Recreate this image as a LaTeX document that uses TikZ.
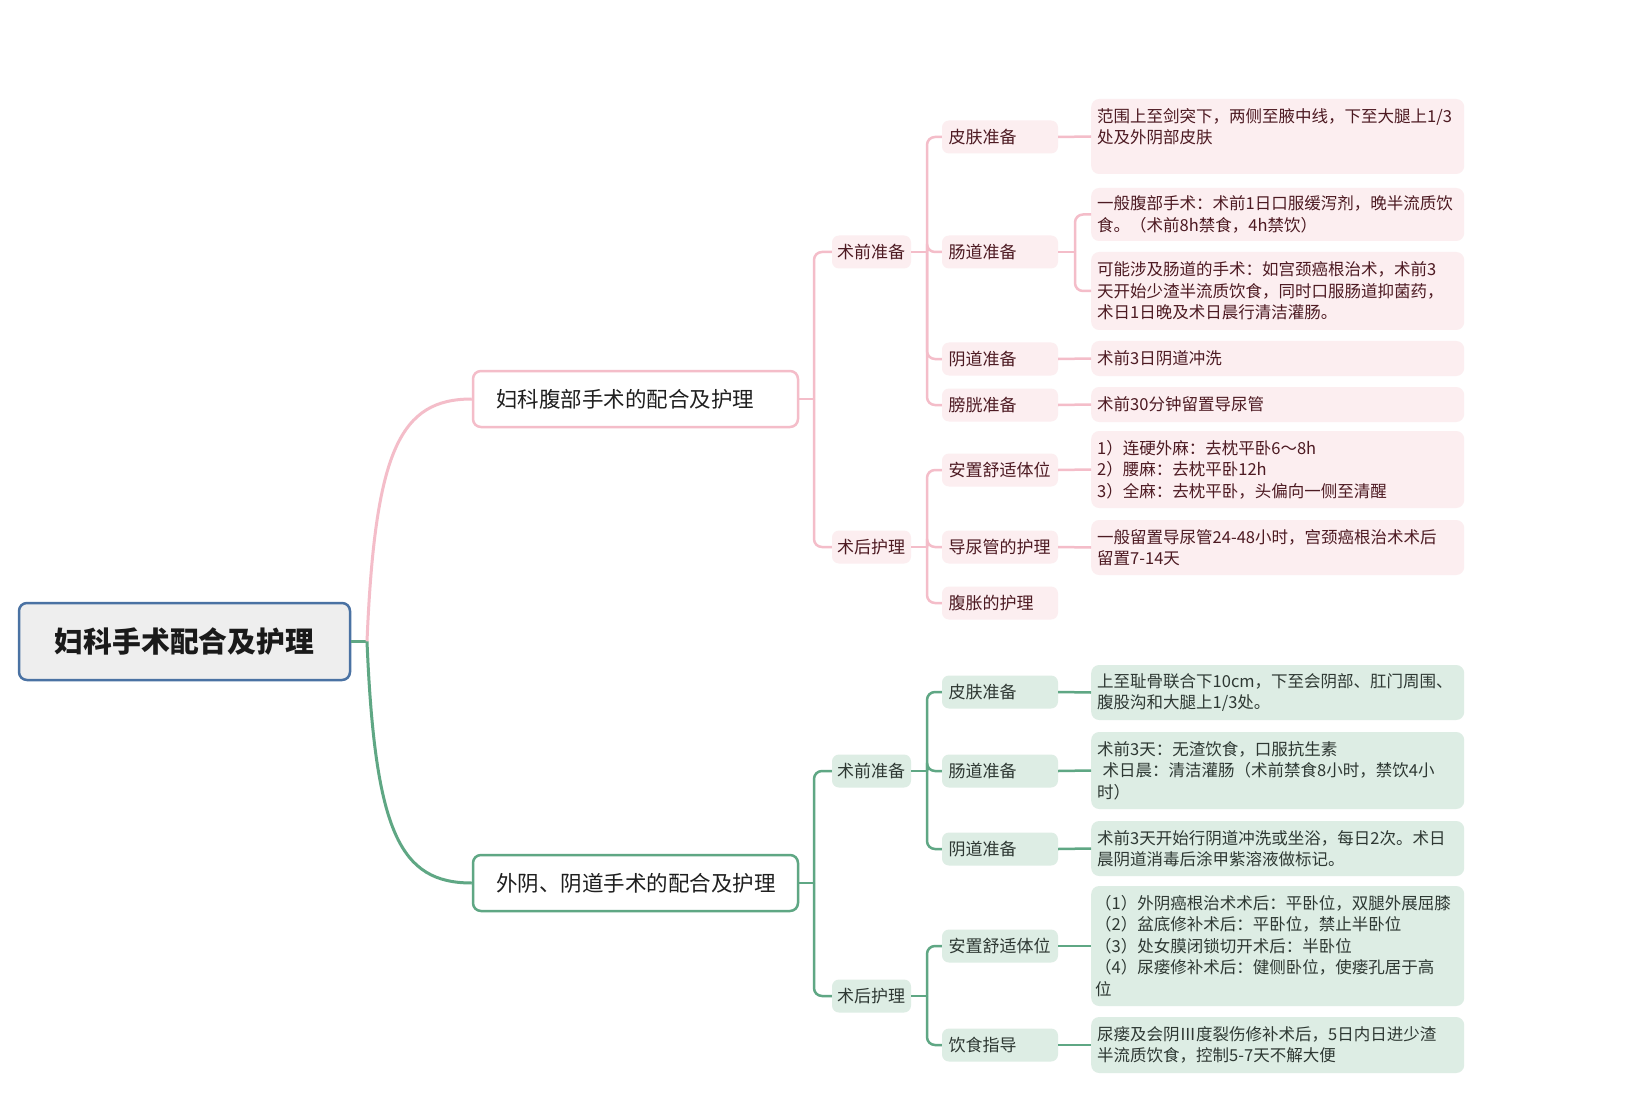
\documentclass[tikz,border=0pt]{standalone}
\usepackage{fontspec}
\setmainfont{Noto Sans CJK SC}
\usetikzlibrary{calc}
\definecolor{pline}{HTML}{F4BDC9}
\definecolor{pfill}{HTML}{FCEEF0}
\definecolor{ptext}{HTML}{4D1A22}
\definecolor{gline}{HTML}{5FA784}
\definecolor{gfill}{HTML}{DDEDE4}
\definecolor{gtext}{HTML}{2E3833}
\definecolor{rootblue}{HTML}{4A72A3}
\definecolor{rootfill}{HTML}{EEEEEE}
\definecolor{roottext}{HTML}{1A1A1A}
\tikzset{
  rootbox/.style={draw=rootblue, line width=2.5, fill=rootfill, rounded corners=8,
    minimum width=331, minimum height=77, text=roottext,
    font=\fontsize{28.8}{34}\selectfont\bfseries},
  branchbox/.style={draw=#1, line width=2.5, fill=white, rounded corners=8,
    text width=279, inner xsep=23, minimum height=56, align=left, text=black!88,
    font=\fontsize{21.5}{26}\selectfont},
  lvtwo/.style={fill=#1, rounded corners=7, text width=69, inner xsep=5,
    minimum height=33, align=left, font=\fontsize{17}{21.5}\selectfont},
  lvthree/.style={fill=#1, rounded corners=7, text width=103, inner xsep=6.5,
    minimum height=33, align=left, font=\fontsize{17}{21.5}\selectfont},
  leafbox/.style={fill=#1, rounded corners=8, text width=361, inner xsep=6,
    inner ysep=4, anchor=west, align=left, font=\fontsize{16.5}{21.5}\selectfont},
  pconn/.style={draw=pline, line width=2.5, rounded corners=8},
  gconn/.style={draw=gline, line width=2.5, rounded corners=8},
  pmain/.style={draw=pline, line width=3},
  gmain/.style={draw=gline, line width=3},
}
\begin{document}
\begin{tikzpicture}[x=1pt,y=-1pt]
\useasboundingbox[fill=white] (0,0) rectangle (1636,1115);

% root and branches
\node[rootbox] (root) at (184.5,641.5) {妇科手术配合及护理};
\node[branchbox=pline] (b1) at (635.5,399) {妇科腹部手术的配合及护理};
\node[branchbox=gline] (b2) at (635.5,883) {外阴、阴道手术的配合及护理};

% level two
\node[lvtwo=pfill, text=ptext] (p1) at (871.5,252) {术前准备};
\node[lvtwo=pfill, text=ptext] (p2) at (871.5,547) {术后护理};
\node[lvtwo=gfill, text=gtext] (q1) at (871.5,771) {术前准备};
\node[lvtwo=gfill, text=gtext] (q2) at (871.5,996) {术后护理};

% level three, pink
\node[lvthree=pfill, text=ptext] (s1) at (1000,137) {皮肤准备};
\node[lvthree=pfill, text=ptext] (s2) at (1000,252) {肠道准备};
\node[lvthree=pfill, text=ptext] (s3) at (1000,359) {阴道准备};
\node[lvthree=pfill, text=ptext] (s4) at (1000,405) {膀胱准备};
\node[lvthree=pfill, text=ptext] (t1) at (1000,470) {安置舒适体位};
\node[lvthree=pfill, text=ptext] (t2) at (1000,547) {导尿管的护理};
\node[lvthree=pfill, text=ptext] (t3) at (1000,603) {腹胀的护理};

% level three, green
\node[lvthree=gfill, text=gtext] (u1) at (1000,692) {皮肤准备};
\node[lvthree=gfill, text=gtext] (u2) at (1000,771) {肠道准备};
\node[lvthree=gfill, text=gtext] (u3) at (1000,849) {阴道准备};
\node[lvthree=gfill, text=gtext] (v1) at (1000,946) {安置舒适体位};
\node[lvthree=gfill, text=gtext] (v2) at (1000,1045) {饮食指导};

% leaves, pink
\node[leafbox=pfill, text=ptext, minimum height=75] (l1) at (1091,136.5)
  {范围上至剑突下，两侧至腋中线，下至大腿上1/3\\处及外阴部皮肤\\\mbox{}};
\node[leafbox=pfill, text=ptext, minimum height=53] (l2) at (1091,214.5)
  {一般腹部手术：术前1日口服缓泻剂，晚半流质饮\\食。（术前8h禁食，4h禁饮）};
\node[leafbox=pfill, text=ptext, minimum height=78] (l3) at (1091,291)
  {可能涉及肠道的手术：如宫颈癌根治术，术前3\\天开始少渣半流质饮食，同时口服肠道抑菌药，\\术日1日晚及术日晨行清洁灌肠。};
\node[leafbox=pfill, text=ptext, minimum height=35] (l4) at (1091,358.5)
  {术前3日阴道冲洗};
\node[leafbox=pfill, text=ptext, minimum height=35] (l5) at (1091,404.5)
  {术前30分钟留置导尿管};
\node[leafbox=pfill, text=ptext, minimum height=77] (l6) at (1091,469.5)
  {1）连硬外麻：去枕平卧6～8h\\2）腰麻：去枕平卧12h\\3）全麻：去枕平卧，头偏向一侧至清醒};
\node[leafbox=pfill, text=ptext, minimum height=55] (l7) at (1091,547.5)
  {一般留置导尿管24-48小时，宫颈癌根治术术后\\留置7-14天};

% leaves, green
\node[leafbox=gfill, text=gtext, minimum height=55] (g1) at (1091,692.5)
  {上至耻骨联合下10cm，下至会阴部、肛门周围、\\腹股沟和大腿上1/3处。};
\node[leafbox=gfill, text=gtext, minimum height=77] (g2) at (1091,770.5)
  {术前3天：无渣饮食，口服抗生素\\\ 术日晨：清洁灌肠（术前禁食8小时，禁饮4小\\时）};
\node[leafbox=gfill, text=gtext, minimum height=55] (g3) at (1091,848.5)
  {术前3天开始行阴道冲洗或坐浴，每日2次。术日\\晨阴道消毒后涂甲紫溶液做标记。};
\node[leafbox=gfill, text=gtext, minimum height=120, text width=365, inner xsep=4] (g4) at (1091,946)
  {（1）外阴癌根治术术后：平卧位，双腿外展屈膝\\（2）盆底修补术后：平卧位，禁止半卧位\\（3）处女膜闭锁切开术后：半卧位\\（4）尿瘘修补术后：健侧卧位，使瘘孔居于高\\位};
\node[leafbox=gfill, text=gtext, minimum height=56] (g5) at (1091,1045)
  {尿瘘及会阴Ⅲ度裂伤修补术后，5日内日进少渣\\半流质饮食，控制5-7天不解大便};

% junction points
\coordinate (rj) at (367,641.5);
\coordinate (j1) at (814,399);
\coordinate (j7) at (814,883);
\coordinate (j2) at (927,252);
\coordinate (j3) at (927,547);
\coordinate (j5) at (927,771);
\coordinate (j6) at (927,996);
\coordinate (j4) at (1075,252);

% root connectors
\draw[gmain] (root.east) -- (rj);
\draw[pmain] (rj) .. controls (375,450) and (400,399) .. (b1.west);
\draw[gmain] (rj) .. controls (375,833) and (400,883) .. (b2.west);

% pink tree
\draw[pconn] (b1.east) -- (j1);
\draw[pconn] (j1) |- (p1.west);
\draw[pconn] (j1) |- (p2.west);
\draw[pconn] (p1.east) -- (j2);
\draw[pconn] (j2) |- (s1.west);
\draw[pconn] (j2) |- (s2.west);
\draw[pconn] (j2) |- (s3.west);
\draw[pconn] (j2) |- (s4.west);
\draw[pconn] (p2.east) -- (j3);
\draw[pconn] (j3) |- (t1.west);
\draw[pconn] (j3) |- (t2.west);
\draw[pconn] (j3) |- (t3.west);
\draw[pconn] (s1.east) -- (l1.west);
\draw[pconn] (s2.east) -- (j4);
\draw[pconn] (j4) |- (l2.west);
\draw[pconn] (j4) |- (l3.west);
\draw[pconn] (s3.east) -- (l4.west);
\draw[pconn] (s4.east) -- (l5.west);
\draw[pconn] (t1.east) -- (l6.west);
\draw[pconn] (t2.east) -- (l7.west);

% green tree
\draw[gconn] (b2.east) -- (j7);
\draw[gconn] (j7) |- (q1.west);
\draw[gconn] (j7) |- (q2.west);
\draw[gconn] (q1.east) -- (j5);
\draw[gconn] (j5) |- (u1.west);
\draw[gconn] (j5) |- (u2.west);
\draw[gconn] (j5) |- (u3.west);
\draw[gconn] (q2.east) -- (j6);
\draw[gconn] (j6) |- (v1.west);
\draw[gconn] (j6) |- (v2.west);
\draw[gconn] (u1.east) -- (g1.west);
\draw[gconn] (u2.east) -- (g2.west);
\draw[gconn] (u3.east) -- (g3.west);
\draw[gconn] (v1.east) -- (g4.west);
\draw[gconn] (v2.east) -- (g5.west);
\end{tikzpicture}
\end{document}
